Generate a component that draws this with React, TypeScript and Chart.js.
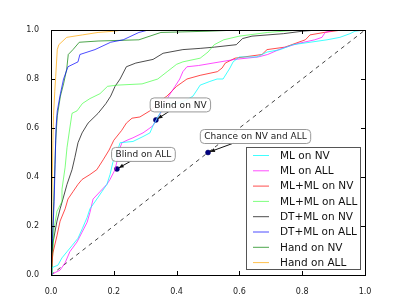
import React, { useEffect, useRef } from "react";
import { Chart, registerables } from "chart.js";

Chart.register(...registerables);

// ---- data ----
const tickValues = [0, 0.2, 0.4, 0.6, 0.8, 1.0];

const mlNvX = [0, 0.003, 0.022, 0.035, 0.051, 0.067, 0.086, 0.1, 0.115, 0.124, 0.146, 0.162, 0.178, 0.188, 0.197, 0.21, 0.22, 0.261, 0.293, 0.315, 0.325, 0.347, 0.369, 0.4, 0.433, 0.452, 0.465, 0.475, 0.506, 0.529, 0.548, 0.57, 0.58, 0.6, 0.656, 0.688, 0.73, 0.77, 0.825, 0.879, 0.92, 0.952, 0.968, 1];
const mlNvY = [0, 0.03, 0.04, 0.07, 0.095, 0.12, 0.15, 0.19, 0.235, 0.27, 0.31, 0.34, 0.37, 0.41, 0.46, 0.5, 0.54, 0.545, 0.565, 0.58, 0.61, 0.66, 0.7, 0.7, 0.715, 0.73, 0.755, 0.775, 0.79, 0.8, 0.8, 0.845, 0.87, 0.89, 0.89, 0.91, 0.92, 0.94, 0.95, 0.96, 0.97, 0.985, 0.995, 1];

const mlAllX = [0, 0.013, 0.029, 0.045, 0.06, 0.083, 0.099, 0.115, 0.124, 0.134, 0.156, 0.178, 0.188, 0.204, 0.213, 0.22, 0.226, 0.242, 0.261, 0.293, 0.315, 0.325, 0.338, 0.353, 0.36, 0.38, 0.395, 0.41, 0.42, 0.433, 0.47, 0.516, 0.586, 0.66, 0.69, 0.735, 0.787, 0.84, 0.863, 0.873, 0.904, 1];
const mlAllY = [0, 0.01, 0.02, 0.05, 0.095, 0.135, 0.175, 0.215, 0.255, 0.31, 0.34, 0.37, 0.39, 0.43, 0.48, 0.52, 0.54, 0.55, 0.56, 0.58, 0.6, 0.61, 0.64, 0.67, 0.7, 0.74, 0.77, 0.8, 0.83, 0.85, 0.855, 0.865, 0.88, 0.89, 0.9, 0.925, 0.945, 0.96, 0.97, 0.99, 1, 1];

const mlmlNvX = [0, 0.006, 0.019, 0.029, 0.045, 0.054, 0.07, 0.086, 0.099, 0.124, 0.146, 0.166, 0.185, 0.2, 0.225, 0.24, 0.258, 0.283, 0.315, 0.347, 0.369, 0.4, 0.433, 0.475, 0.53, 0.545, 0.555, 0.586, 0.672, 0.688, 0.745, 0.81, 0.825, 0.87, 0.927, 1];
const mlmlNvY = [0, 0.09, 0.16, 0.22, 0.27, 0.31, 0.34, 0.37, 0.39, 0.41, 0.43, 0.47, 0.51, 0.55, 0.59, 0.62, 0.64, 0.645, 0.67, 0.71, 0.73, 0.77, 0.8, 0.815, 0.83, 0.845, 0.865, 0.885, 0.9, 0.92, 0.93, 0.96, 0.98, 0.99, 1, 1];

const mlmlAllX = [0, 0.003, 0.006, 0.01, 0.019, 0.035, 0.035, 0.045, 0.051, 0.06, 0.067, 0.083, 0.1, 0.124, 0.156, 0.18, 0.21, 0.29, 0.34, 0.37, 0.4, 0.42, 0.475, 0.5, 0.52, 0.55, 0.6, 0.69, 0.79, 1];
const mlmlAllY = [0, 0.05, 0.09, 0.19, 0.26, 0.3, 0.35, 0.44, 0.52, 0.6, 0.66, 0.67, 0.7, 0.72, 0.74, 0.77, 0.775, 0.78, 0.8, 0.83, 0.86, 0.87, 0.885, 0.91, 0.94, 0.96, 0.975, 0.99, 1, 1];

const dtmlNvX = [0, 0.003, 0.006, 0.019, 0.029, 0.038, 0.051, 0.067, 0.076, 0.086, 0.099, 0.118, 0.15, 0.175, 0.19, 0.204, 0.22, 0.24, 0.27, 0.325, 0.357, 0.42, 0.475, 0.52, 0.59, 0.61, 0.64, 0.74, 0.8, 0.85, 1];
const dtmlNvY = [0, 0.07, 0.13, 0.22, 0.27, 0.31, 0.37, 0.43, 0.48, 0.54, 0.58, 0.62, 0.66, 0.7, 0.73, 0.77, 0.8, 0.85, 0.865, 0.88, 0.905, 0.92, 0.925, 0.93, 0.94, 0.965, 0.975, 0.985, 0.995, 1, 1];

const dtmlAllX = [0, 0.005, 0.01, 0.013, 0.016, 0.02, 0.03, 0.04, 0.054, 0.086, 0.092, 0.14, 0.19, 0.23, 0.28, 0.31, 1];
const dtmlAllY = [0, 0.15, 0.3, 0.45, 0.6, 0.67, 0.74, 0.8, 0.85, 0.87, 0.9, 0.92, 0.95, 0.96, 0.99, 1, 1];

const handNvX = [0, 0.005, 0.01, 0.015, 0.02, 0.03, 0.04, 0.05, 0.055, 0.07, 0.09, 0.15, 0.28, 0.35, 0.5, 0.6, 1];
const handNvY = [0, 0.15, 0.35, 0.55, 0.65, 0.73, 0.78, 0.84, 0.9, 0.92, 0.95, 0.955, 0.96, 0.99, 0.995, 1, 1];

const handAllX = [0, 0.003, 0.006, 0.008, 0.012, 0.015, 0.02, 0.025, 0.05, 0.1, 0.15, 0.2, 0.23, 1];
const handAllY = [0, 0.3, 0.55, 0.65, 0.75, 0.81, 0.92, 0.94, 0.97, 0.98, 0.99, 0.995, 1, 1];

const chanceX = [0, 1];
const chanceY = [0, 1];

const seriesLabels = ["ML on NV", "ML on ALL", "ML+ML on NV", "ML+ML on ALL", "DT+ML on NV", "DT+ML on ALL", "Hand on NV", "Hand on ALL"];

const annotationLabels = ["Blind on NV", "Blind on ALL", "Chance on NV and ALL"];
const annotationX = [0.334, 0.21, 0.5];
const annotationY = [0.633, 0.433, 0.5];

// ---- styles ----
const seriesColors = [
  "rgba(0,255,255,0.75)",
  "rgba(255,0,255,0.7)",
  "rgba(255,0,0,0.7)",
  "rgba(40,255,40,0.6)",
  "rgba(0,0,0,0.7)",
  "rgba(0,0,255,0.7)",
  "rgba(0,128,0,0.7)",
  "rgba(255,165,0,0.7)",
];
const annotationOffsets = [
  [24, -15.5],
  [26, -15],
  [47, -16.5],
];

const FONT = "'DejaVu Sans', 'Bitstream Vera Sans', sans-serif";

function pts(xs: number[], ys: number[]) {
  return xs.map((x, i) => ({ x, y: ys[i] }));
}

const overlayPlugin = {
  id: "overlay",
  afterDatasetsDraw(chart: any) {
    const { ctx, chartArea, scales } = chart;
    const { left, right, top, bottom } = chartArea;
    const xs = scales.x;
    const ys = scales.y;
    ctx.save();

    // annotations
    ctx.font = `9px ${FONT}`;
    annotationLabels.forEach((label, i) => {
      const px = xs.getPixelForValue(annotationX[i]);
      const py = ys.getPixelForValue(annotationY[i]);
      const cx = px + annotationOffsets[i][0];
      const cy = py + annotationOffsets[i][1];
      const tw = ctx.measureText(label).width;
      const bw = tw + 8;
      const bh = 14;
      const bx = cx - bw / 2;
      const by = cy - bh / 2;
      // arrow
      const sx = cx - 0.45 * (cx - px);
      const sy = by + bh;
      const ang = Math.atan2(py - sy, px - sx);
      const ex = px - Math.cos(ang) * 2;
      const ey = py - Math.sin(ang) * 2;
      ctx.strokeStyle = "#111";
      ctx.lineWidth = 1;
      ctx.beginPath();
      ctx.moveTo(sx, sy);
      ctx.lineTo(ex, ey);
      ctx.stroke();
      ctx.fillStyle = "#111";
      ctx.beginPath();
      ctx.moveTo(ex, ey);
      ctx.lineTo(ex - 5 * Math.cos(ang) + 2 * Math.sin(ang), ey - 5 * Math.sin(ang) - 2 * Math.cos(ang));
      ctx.lineTo(ex - 5 * Math.cos(ang) - 2 * Math.sin(ang), ey - 5 * Math.sin(ang) + 2 * Math.cos(ang));
      ctx.closePath();
      ctx.fill();
      // box
      ctx.fillStyle = "rgba(255,255,255,0.9)";
      ctx.strokeStyle = "#999";
      ctx.beginPath();
      (ctx as any).roundRect(bx + 0.5, by + 0.5, bw, bh, 4);
      ctx.fill();
      ctx.stroke();
      ctx.fillStyle = "#222";
      ctx.textAlign = "center";
      ctx.textBaseline = "middle";
      ctx.fillText(label, cx + 0.5, cy + 1);
    });

    // legend
    const lw = 114;
    const lh = 122;
    const lx = right - 5 - lw;
    const ly = bottom - 6 - lh;
    ctx.fillStyle = "#fff";
    ctx.fillRect(lx, ly, lw, lh);
    ctx.strokeStyle = "#555";
    ctx.lineWidth = 1;
    ctx.strokeRect(lx + 0.5, ly + 0.5, lw, lh);
    ctx.font = `10.5px ${FONT}`;
    ctx.textAlign = "left";
    ctx.textBaseline = "middle";
    seriesLabels.forEach((label, i) => {
      const yy = ly + 8.5 + i * 15.3;
      ctx.strokeStyle = seriesColors[i];
      ctx.beginPath();
      ctx.moveTo(lx + 7, yy);
      ctx.lineTo(lx + 23, yy);
      ctx.stroke();
      ctx.fillStyle = "#111";
      ctx.fillText(label, lx + 34, yy + 0.5);
    });

    // frame and inward ticks
    ctx.strokeStyle = "#000";
    ctx.lineWidth = 1;
    ctx.strokeRect(Math.round(left) + 0.5, Math.round(top) + 0.5, Math.round(right - left), Math.round(bottom - top));
    ctx.beginPath();
    tickValues.forEach((v) => {
      const tx = Math.round(xs.getPixelForValue(v)) + 0.5;
      ctx.moveTo(tx, bottom);
      ctx.lineTo(tx, bottom - 4);
      ctx.moveTo(tx, top);
      ctx.lineTo(tx, top + 4);
      const ty = Math.round(ys.getPixelForValue(v)) + 0.5;
      ctx.moveTo(left, ty);
      ctx.lineTo(left + 4, ty);
      ctx.moveTo(right, ty);
      ctx.lineTo(right - 4, ty);
    });
    ctx.stroke();
    ctx.restore();
  },
};

export default function App() {
  const ref = useRef<HTMLCanvasElement | null>(null);

  useEffect(() => {
    document.body.style.margin = "0";
    const canvas = ref.current;
    if (!canvas) return;
    const lineSeries = [
      [mlNvX, mlNvY],
      [mlAllX, mlAllY],
      [mlmlNvX, mlmlNvY],
      [mlmlAllX, mlmlAllY],
      [dtmlNvX, dtmlNvY],
      [dtmlAllX, dtmlAllY],
      [handNvX, handNvY],
      [handAllX, handAllY],
    ];
    const datasets: any[] = [
      {
        label: "Chance",
        data: pts(chanceX, chanceY),
        showLine: true,
        borderColor: "#444",
        borderWidth: 1,
        borderDash: [4, 4],
        pointRadius: 0,
        order: 10,
      },
      ...lineSeries.map(([xs, ys], i) => ({
        label: seriesLabels[i],
        data: pts(xs, ys),
        showLine: true,
        borderColor: seriesColors[i],
        backgroundColor: seriesColors[i],
        borderWidth: 1,
        pointRadius: 0,
        tension: 0,
        fill: false,
      })),
      {
        label: "Blind points",
        data: pts(annotationX, annotationY),
        showLine: false,
        pointRadius: 2.5,
        pointBackgroundColor: "#000080",
        pointBorderColor: "#000060",
        pointBorderWidth: 0.5,
      },
    ];

    const chart = new Chart(canvas, {
      type: "scatter",
      data: { datasets },
      options: {
        responsive: false,
        animation: false,
        events: [],
        layout: { padding: { left: 0, right: 41, top: 30, bottom: 0 } },
        plugins: { legend: { display: false }, tooltip: { enabled: false } },
        scales: {
          x: {
            type: "linear",
            min: 0,
            max: 1,
            grid: { display: false },
            border: { display: false },
            afterFit: (s: any) => {
              s.height = 31;
            },
            afterBuildTicks: (s: any) => {
              s.ticks = tickValues.map((v) => ({ value: v }));
            },
            ticks: {
              padding: 4,
              maxRotation: 0,
              color: "#222",
              font: { family: FONT, size: 8 },
              callback: (v: any) => Number(v).toFixed(1),
            },
          },
          y: {
            type: "linear",
            min: 0,
            max: 1,
            grid: { display: false },
            border: { display: false },
            afterFit: (s: any) => {
              s.width = 51;
            },
            afterBuildTicks: (s: any) => {
              s.ticks = tickValues.map((v) => ({ value: v }));
            },
            ticks: {
              padding: 4,
              color: "#222",
              font: { family: FONT, size: 8 },
              callback: (v: any) => Number(v).toFixed(1),
            },
          },
        },
      },
      plugins: [overlayPlugin],
    });
    return () => chart.destroy();
  }, []);

  return (
    <div style={{ width: 406, height: 306 }}>
      <canvas ref={ref} width={406} height={306} style={{ display: "block", width: 406, height: 306 }} />
    </div>
  );
}
